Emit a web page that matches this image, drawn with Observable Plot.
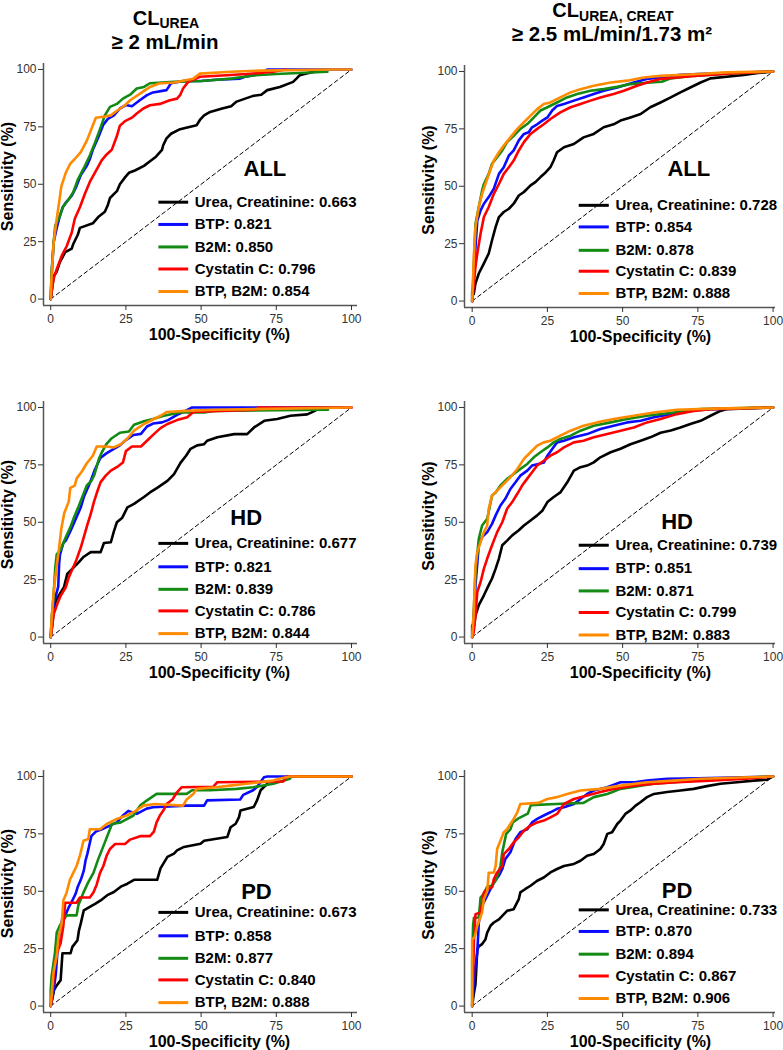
<!DOCTYPE html>
<html><head><meta charset="utf-8">
<script src="https://cdn.jsdelivr.net/npm/d3@7"></script>
<script src="https://cdn.jsdelivr.net/npm/@observablehq/plot@0.6"></script>
<style>
html,body{margin:0;padding:0;background:#fff;overflow:hidden}
#wrap{position:relative;width:783px;height:1050px;font-family:"Liberation Sans",Arial,sans-serif}
#wrap > svg, #wrap > div{position:absolute}
</style></head><body><div id="wrap"></div>
<script>
// ---------- series meta ----------
const seriesNames = ["Urea, Creatinine", "BTP", "B2M", "Cystatin C", "BTP, B2M"];
const seriesColors = ["#000000", "#0a0aff", "#138a13", "#ff0000", "#ff8a00"];
const xTicks = [0, 25, 50, 75, 100];
const yTicks = [0, 25, 50, 75, 100];
const groupLabels = ["ALL", "HD", "PD"];
const xTitle = "100-Specificity (%)";
const yTitle = "Sensitivity (%)";

// ---------- AUC values ----------
const aucLeftAll = [0.663, 0.821, 0.850, 0.796, 0.854];
const aucLeftHd  = [0.677, 0.821, 0.839, 0.786, 0.844];
const aucLeftPd  = [0.673, 0.858, 0.877, 0.840, 0.888];
const aucRightAll = [0.728, 0.854, 0.878, 0.839, 0.888];
const aucRightHd  = [0.739, 0.851, 0.871, 0.799, 0.883];
const aucRightPd  = [0.733, 0.870, 0.894, 0.867, 0.906];

// ---------- ROC curves: [100-specificity, sensitivity] ----------
// Left column: CL_UREA >= 2 mL/min
const L_all_urea = [[0,0],[0.5,5],[1,10],[2,12],[3,16],[4.8,20.4],[7,22],[7.5,24],[9,28],[9.7,31],[14,33],[16,36],[18,38],[19,41],[19.7,44],[22,47],[23,50],[24.7,53],[26,55],[28,56],[31,58],[33,60],[35,62],[37,65],[37.4,67],[38.5,70],[40,72],[43,74],[48.5,75.7],[49.6,78],[51,80],[53,81.5],[57,83],[60,84],[61.8,86],[67.3,88.5],[70,89],[72,91],[76.2,92.4],[80.6,94.6],[81.7,96],[82.8,97.5],[85,98.3],[87.8,99]];
const L_all_btp = [[0,0],[0.5,15],[1,25],[2,31],[3,36],[4,40],[5,42],[7,45],[8.5,49],[10,54],[12,58],[13,61],[14,65],[16,71],[17.5,76],[19,78.5],[21,80],[23,83],[25,84.5],[27,84],[29.5,86.5],[32,88.8],[34,90],[38.5,91],[40,94],[44,95],[50,95],[55,95.5],[63,96],[65,97],[70,98],[72,100],[100,100]];
const L_all_b2m = [[0,0],[0.3,12],[1,25],[1.5,32],[3,36],[4,40],[6,43.5],[7.5,46.5],[9,52],[11,57],[13,62.5],[14.7,68],[16.4,74],[18,80],[19.7,83.7],[22,85],[24,87.3],[26.4,89],[28.6,91.7],[31,92.4],[33,94],[41,94.6],[50,95],[60,96],[68,97.5],[75,98],[92,99]];
const L_all_cys = [[0,0],[0.5,5],[1,9],[2,13],[3.7,19],[5.3,23],[7,29],[8,35],[9.7,40],[11.4,46],[13,51],[15.3,56.5],[17,60.5],[18.6,63],[20.3,65],[22,71],[23,75.5],[24.7,77.5],[27,79],[28.6,80.8],[30.8,83],[33,84.4],[36.3,85],[39.6,86.6],[42,87.3],[43,88.8],[44,91.7],[45.7,94.6],[49.6,96.8],[58.5,97.5],[65,98],[74,99],[78,100]];
const L_all_combo = [[0,0],[0.3,10],[1,25],[2,35],[3,44],[3.5,49],[5,55],[6.5,59],[8,61],[10,64],[12,69],[13.5,74],[15,79],[18,79.5],[20,80],[22,82],[24.7,84.4],[26.4,86.6],[29.7,89.5],[33,92.4],[36,93.9],[41,94.3],[47.4,96],[49.6,98.2],[60,99],[70,99.5],[92.8,100],[100,100]];

const L_hd_urea = [[0,0],[0.5,5],[1,12],[1.7,16],[4.4,21.7],[5.5,27.5],[8.9,32],[11,35],[13.3,37],[16.6,37],[17.7,41],[20,41.3],[21,46],[22,50],[23.8,52],[25.5,56.5],[27.7,58],[31,61],[33,63],[35.4,65],[38.8,68],[41,71],[43.2,76],[45,79],[46.5,82],[48.7,83.5],[51,84],[52,85.5],[55.4,87],[61,88.4],[65.3,88.4],[67.6,91.3],[71,94.2],[75.3,95],[79.7,96.4],[85.3,97],[88,98.6]];
const L_hd_btp = [[0,0],[0.5,10],[1.1,15],[2.5,22],[2.8,32],[3.1,36],[4.2,41],[5,42],[6.5,46],[8.5,52],[10,56.5],[11,61],[13,67],[14.7,73],[16.5,78],[18.5,80],[21,82],[23,83.5],[25.2,86],[27.5,88],[30,88.5],[32,91.7],[34,93],[37,93.5],[39,94.5],[42,96.8],[44,98],[47,100],[100,100]];
const L_hd_b2m = [[0,0],[0.3,8],[0.9,17],[1.5,30],[2,36],[3.3,38],[5,43.5],[6.6,48],[7.7,52],[9.3,57],[10.5,61],[12,66],[13.5,68],[14.5,70.6],[16,77.5],[17,80.5],[18.5,84],[20.3,86.6],[23,89],[26,89.5],[27.7,92.5],[31,94],[34,95],[37.6,96.4],[43,97.8],[51,97.8],[54.3,98.5],[92.2,99]];
const L_hd_cys = [[0,0],[0.5,5],[1,10],[2.2,14.5],[3.3,18],[5,21.7],[6,26],[7,29],[8.5,33.5],[10,39],[11,43.5],[12.2,49],[13.3,53.6],[14.4,59],[15.5,63.5],[16.6,67.5],[18.3,70.3],[20,72.5],[22.5,74.5],[24,76],[25,81],[27,83],[30,83],[32,85.5],[34.3,88.4],[36.5,91],[38.8,92.8],[42,94.5],[45.4,95.7],[47.4,98],[56,98.5],[68.4,99],[69,100],[100,100]];
const L_hd_combo = [[0,0],[0.3,8],[1,20],[1.7,28],[2.8,39],[3.5,47],[4.5,54],[6,59],[6.5,65],[8,66],[8.6,69],[10.3,72],[12,75.7],[14,79],[15.3,83],[18.6,83],[21,82.6],[23.3,84],[25.5,86.5],[27.7,89.9],[31,92.8],[33.2,94.2],[36.5,96.4],[38.5,98],[45,98.5],[55,99],[100,100]];

const L_pd_urea = [[0,0],[0.5,3],[1.1,7],[2,9],[3.3,11.3],[3.9,23],[6.6,23],[7.2,25.8],[8.9,28.7],[9.4,33],[10,36],[11,41.7],[12.7,43],[14.9,44.6],[16.6,46],[18.8,48.3],[21,49.7],[23.3,52],[25.5,53.3],[27.7,55],[35.4,55],[36.5,60],[38.8,65],[41,66.4],[42,67.8],[44.3,69.3],[49.8,70.7],[51,72],[58.7,73.6],[59.8,77.9],[61.5,79.4],[62.6,82.3],[63.1,85.2],[67.5,86.7],[68.6,89.6],[69.8,94],[70.9,95.4],[72,96.8]];
const L_pd_btp = [[0,0],[1,7],[1.7,14],[2.2,23],[2.8,30],[3.3,33],[3.9,38.8],[5,40],[6,43],[7.2,46],[8.3,49],[9,52],[10,55],[11,59],[11.6,63.5],[12.2,66.4],[12.7,69.3],[13.5,74],[15,76],[17,77],[19.7,78.6],[22,80],[24,83],[25.8,85],[28.6,83.7],[31.9,86],[34,86.6],[45,87.3],[51,87.3],[52,89.6],[63,90],[64,92],[67.3,94],[68.6,95.4],[70.9,99.7],[72,100],[100,100]];
const L_pd_b2m = [[0,0],[0,7],[0.3,13],[1.4,23],[2,32],[3,35],[4,37],[5.3,39.5],[8.6,39.5],[9.2,44],[10.9,49.5],[12.5,54],[14.2,58],[15.8,64],[18,71.3],[19.7,77],[20.3,79.3],[23.3,80],[27.5,83],[29.7,87.3],[31.9,89.5],[35.2,92.4],[45.2,92.4],[47,94],[53,94],[61.8,94.6],[67.3,95.3],[74,96.8],[79.5,99],[80,100],[100,100]];
const L_pd_cys = [[0,0],[0.5,5],[0.9,11.6],[1.4,18],[2.2,23.6],[3.3,27.5],[4.2,35],[4.5,40],[4.8,45],[8.6,45],[9.7,47.3],[13,47.3],[14.2,49.5],[15.3,53],[16.4,58],[17.5,61],[18.6,65.5],[19.7,68.4],[21.4,70.6],[24.7,70.6],[26.4,72.5],[29.7,74],[33,74],[34.3,76],[35.2,80],[36.3,83],[37.6,85.5],[38.5,88],[40.5,90],[41.9,93],[43.5,95.3],[54,95.5],[55.4,97.5],[77.3,97.8],[78.5,100],[100,100]];
const L_pd_combo = [[0,0],[0.5,8],[0.9,14.6],[2,22],[2.5,29],[3.7,36.4],[4.2,46],[5.3,49.5],[6.4,55],[7.5,58],[8.6,61],[9.7,65.5],[10.9,72],[12.5,72.8],[13,77],[16.4,77],[18.6,79.3],[22,81.5],[25.2,83],[27.5,84.4],[30.8,87.3],[34.7,88],[44,87.3],[45.2,90],[47.4,92.4],[48.5,94.6],[55,95.3],[59.6,96],[65,96.8],[74,98.2],[76,99],[79.5,100],[100,100]];

// Right column: CL_UREA,CREAT >= 2.5 mL/min/1.73 m2
const R_all_urea = [[0,0],[0,4],[0.5,3],[1.1,7.7],[2.2,12],[3.9,16.4],[5.5,20.7],[6.6,26.5],[7.8,32.3],[8.9,36.6],[10.5,38.8],[12.2,40.2],[13.8,42.4],[15.5,46],[17.2,47.5],[19.4,50.4],[21,51.8],[22.7,54],[24.4,56],[26,58.3],[27,61],[28.2,64.8],[30.5,67],[33.8,68.4],[37,71.3],[40.4,72.8],[43.7,75.7],[47,77],[49.3,78.6],[52.6,80],[56,81.5],[59.2,84.4],[62.6,86.5],[66,88.7],[69.2,90.9],[72.5,93],[75.9,95.2],[79.2,97],[87,98],[90.3,98.5],[95,99.3],[100,100]];
const R_all_btp = [[0,0],[0.5,10],[1.1,23.6],[1.7,35],[2.8,39.5],[3.9,42.4],[5.5,45.3],[7.2,49],[8.9,55.4],[10.5,58.3],[12.2,63.4],[13.8,65.6],[15.5,70],[17.2,72.8],[18.8,73.5],[19.9,75.7],[21.6,77],[23.3,78.6],[25,80],[26.6,83],[28.2,85],[30.5,85.8],[33.8,87.3],[37,88.7],[40.4,90.2],[43.7,91.6],[48.2,93],[53.7,95.2],[58,96.7],[62.6,97.4],[69.2,98.5],[79.2,99.1],[100,100]];
const R_all_b2m = [[0,0],[0.3,8],[0.6,17.8],[1.1,33.7],[2.2,41],[3.3,48.2],[3.9,51],[5.5,55.4],[6.6,59.8],[8.3,62.7],[10,65.6],[11.6,69.2],[13.8,72],[16,75],[18.3,77.1],[20.5,80],[22.7,83],[25,84.4],[28.2,86.5],[31.5,88.7],[34.9,90.2],[39.3,91.6],[43.7,92.3],[48.2,93.3],[52.6,94.5],[59.2,95.2],[63,95.5],[66,97],[73.6,98.1],[84.7,99],[100,100]];
const R_all_cys = [[0,0],[0.5,7],[1.1,15],[1.7,20.7],[2.8,29.4],[3.9,36.6],[5.5,41],[7.2,46.7],[8.9,51],[10.5,55.4],[12.2,58.3],[13.8,61.2],[15.5,65.6],[17.2,69.2],[19.4,72.8],[21.6,75],[23.8,77],[26,79.3],[29.3,82.2],[32.7,84.4],[36,85.8],[39.3,87.3],[42.6,88.7],[47,90.2],[50.4,91.6],[54.8,93.8],[58.1,95.2],[62.6,96.7],[68,97.4],[73.6,98.1],[84.7,99],[100,100]];
const R_all_combo = [[0,0],[0.3,10],[0.6,20.7],[1.1,32.3],[2.2,41],[3.3,46.7],[4.4,51],[6,57],[7.2,61.2],[8.9,64.8],[10.5,67.7],[12.7,71.3],[15,75],[17.2,77.9],[19.4,80.8],[21.6,83.6],[23.8,85.8],[26,86.5],[29.3,88.7],[32.7,90.9],[36,92.3],[40.4,93.8],[46,95.2],[51.5,96],[57,97.4],[62.6,98.1],[73.6,98.8],[84.7,99.6],[100,100]];

const R_hd_urea = [[0,0],[0,5],[0.5,4],[1.1,9.5],[2.2,13.9],[3.9,18.2],[5.5,22.6],[6.6,25.5],[7.8,29.8],[8.9,34.2],[10,40],[11.6,42],[13.3,44.3],[15.5,46.5],[17.2,48.6],[19.4,50.8],[21.6,53],[23.3,55],[25,58.8],[27.1,61],[29.3,63],[31.6,67.4],[33.8,72.5],[36,74],[38.2,74.7],[40.4,76.1],[42.6,78.3],[46,80.5],[49.3,82],[52.6,84],[56,85.5],[59.2,87],[62.6,89],[66,90],[69.2,91.3],[72.5,92.8],[75.9,94.2],[79.2,96.4],[82.5,98.5],[84.7,99.3],[100,100]];
const R_hd_btp = [[0,0],[0.5,8],[1.1,22.6],[2.2,40],[3.3,43.6],[5,45.7],[6.6,49.3],[7.8,53],[9.4,57.3],[11,60.2],[12.7,64.5],[14.4,67.4],[16,70.3],[18.3,72.5],[19.9,74.7],[22,75.4],[23.8,76],[25,79],[26.6,81.9],[28.2,84.8],[30.5,85.5],[33.8,87],[38.2,88.4],[42.6,90.6],[47,92],[51.5,93.5],[56,94.2],[60.4,95.7],[65,96.8],[71.4,98.5],[80.3,99.3],[100,100]];
const R_hd_b2m = [[0,0],[0.5,10],[1.1,28.4],[2.2,42.8],[3.3,48.6],[5,51.5],[6.6,61.6],[7.8,63],[9.4,66],[11.6,68.9],[13.8,71],[16,73.2],[18.3,75.4],[20.5,78.3],[22.7,80.5],[25,82.6],[27.1,84.8],[29.3,86.3],[32.7,87.7],[36,89.9],[40.4,92],[46,93.5],[51.5,95],[58.1,96.4],[67,97.8],[75.9,99.3],[100,100]];
const R_hd_cys = [[0,0],[0.5,2],[1.1,9.5],[1.7,19.7],[2.8,24],[3.9,29.8],[5,34.2],[6.6,40],[8.3,45.7],[10,50],[11.6,55.9],[13.3,58.8],[15,62.4],[16.6,66],[18.3,69],[19.9,71.8],[21.6,74.7],[23.8,76.8],[26,79],[28.2,80.5],[30.5,82.6],[33.8,84.8],[37,85.5],[40.4,87],[44.9,88.4],[49.3,89.9],[53.7,91.3],[58.1,93.5],[62.6,95],[68,97.1],[73.6,98.5],[80,99.3],[100,100]];
const R_hd_combo = [[0,0],[0.5,10],[1.1,31.3],[1.7,37],[2.8,41.4],[3.9,45.7],[5,48.6],[5.5,55.9],[6.6,61.6],[8.3,63.8],[10.5,66.7],[12.7,69.6],[15,73.2],[17.2,77.6],[19.4,80.5],[21.6,83.4],[23.8,84.8],[26,85.5],[29.3,87.7],[32.7,89.9],[37,92],[41.5,93.5],[47,95],[53.7,96.4],[60.4,97.8],[68,99],[80,99.5],[100,100]];

const R_pd_urea = [[0,0],[0.5,5],[1.1,9.5],[1.7,24.7],[2.2,26],[3.3,27],[4.4,29],[5,32],[6.1,35],[7.2,36.4],[8.9,37.8],[10,39.3],[11.6,41.5],[13.8,42.2],[15.5,46.6],[16,49.5],[17.7,51],[19.4,52.4],[21.6,54.6],[23.8,56],[26,58.2],[28.2,59.7],[30.5,61],[33.8,61.9],[36,63.3],[38.2,65.5],[40.4,66.2],[42.6,68.4],[43.7,70.6],[44.9,75],[46.5,75.7],[48.2,79.3],[49.3,80.8],[50.9,83.7],[52.6,85.2],[54.3,87.3],[55.9,88.8],[58.1,91],[60.4,92.4],[64.8,93.2],[69.2,93.9],[73.6,94.6],[78,95.8],[82.5,96.8],[88,97.5],[93.6,98.2],[98,98.6],[100,100]];
const R_pd_btp = [[0,0],[0.5,10],[1.1,17.5],[1.7,23.3],[2.2,36.4],[3.3,43.7],[4.4,46.6],[6.1,51],[7.2,53.9],[8.9,56.8],[10,59.7],[11,64],[12.7,67],[14.4,72.8],[16,75.7],[18.3,77],[19.9,80],[21.6,81.5],[23.8,83],[26,84.4],[28.2,85.9],[30.5,86.6],[33.8,88],[36,90.2],[38.2,92.4],[40.4,93.9],[44.9,95.3],[49.3,97.5],[54,97.5],[58,98.2],[64.8,99],[75,99.2],[100,100]];
const R_pd_b2m = [[0,0],[0,20],[0.3,35],[0.6,38.5],[2.2,38.6],[2.8,47.3],[3.9,49],[5,52],[6.6,52.4],[8,55],[9.4,61],[10,67],[11.3,75],[12.7,77],[13.5,80],[15.2,81.6],[18.5,83.8],[19.5,87.5],[28,88],[37,88.5],[40.4,91],[44.9,92.4],[49.3,94.6],[56,96],[60.4,96.8],[73.6,98.2],[84.7,99],[100,100]];
const R_pd_cys = [[0,0],[0.6,29],[1.1,40],[2.8,40.8],[3.9,49.5],[5,51],[6.6,51.7],[7.2,55.3],[8.3,58.2],[10,61],[10.5,66.2],[12.2,68.4],[13.8,71.3],[15.5,73.5],[17.2,76.4],[19.4,78.6],[21.6,80],[23.8,80.8],[26,82.2],[28.2,83.7],[30.5,88],[33.8,90.2],[38.2,91.7],[42.6,93.2],[47,94.6],[53.7,96],[60.4,96.8],[68,97.5],[79,98.2],[91,99],[100,100]];
const R_pd_combo = [[0,0],[0,29],[0.8,30],[1.7,35],[3.3,40.8],[3.9,46.6],[5,50],[5.5,58],[7.2,58.2],[7.8,61],[8.3,68.4],[9.4,72],[10.5,75.7],[11.6,77],[12.7,79.3],[13.8,81.5],[15,84.4],[16,88],[22,88.5],[25,90.2],[28.2,91],[31.6,92.4],[36,93.9],[42.6,94.6],[49.3,96],[58,97.5],[67,98.2],[75.9,99],[100,100]];

// ---------- build ----------
const wrap = document.getElementById("wrap");
const FONT = "'Liberation Sans', Arial, Helvetica, sans-serif";
const fmt = d3.format(".3f");
const yDomain = [-2.8, 102.6];

// Column titles
const titleSvg = d3.create("svg").attr("width", 783).attr("height", 56)
  .style("left", "0px").style("top", "0px")
  .attr("font-family", FONT).attr("font-weight", "bold").attr("fill", "#000");
{
  const t1 = titleSvg.append("text").attr("x", 166).attr("y", 25).attr("text-anchor", "middle").attr("font-size", 20);
  t1.append("tspan").text("CL");
  t1.append("tspan").attr("font-size", 14).attr("dy", 3.3).text("UREA");
  titleSvg.append("text").attr("x", 165).attr("y", 49).attr("text-anchor", "middle").attr("font-size", 20.5).text("≥ 2 mL/min");
  const t2 = titleSvg.append("text").attr("x", 613).attr("y", 16.5).attr("text-anchor", "middle").attr("font-size", 20);
  t2.append("tspan").text("CL");
  t2.append("tspan").attr("font-size", 14).attr("dy", 4.5).text("UREA, CREAT");
  titleSvg.append("text").attr("x", 612).attr("y", 41).attr("text-anchor", "middle").attr("font-size", 20.5).text("≥ 2.5 mL/min/1.73 m²");
}
wrap.appendChild(titleSvg.node());

function panel(cfg) {
  const {curves, aucs, label, labelX, labelY, legendY, side, top} = cfg;
  const isLeft = side === "left";
  const xDomain = isLeft ? [-2.4, 102] : [-2.55, 100.8];
  const width = isLeft ? 390 : 393;
  const marginLeft = isLeft ? 43 : 74;
  const marginRight = isLeft ? 33 : 8;
  const lx1 = isLeft ? 35.8 : 35.4, lx2 = isLeft ? 45.7 : 45.4, tx = isLeft ? 47.9 : 47.6;
  const legendRows = seriesNames.map((n, i) => ({name: n, auc: aucs[i], y: legendY[i], color: seriesColors[i]}));
  const svg = Plot.plot({
    width, height: 286, marginLeft, marginRight, marginTop: 6, marginBottom: 38,
    x: {domain: xDomain, axis: null},
    y: {domain: yDomain, axis: null},
    color: {type: "identity"},
    style: {fontFamily: FONT, background: "transparent", overflow: "visible"},
    marks: [
      Plot.line([[0, 0], [100, 100]], {x: d => d[0], y: d => d[1], stroke: "#000", strokeWidth: 1, strokeDasharray: "4,3"}),
      ...curves.map((c, i) => Plot.line(c, {x: d => d[0], y: d => d[1], stroke: seriesColors[i], strokeWidth: 2.6})),
      Plot.link(legendRows, {x1: () => lx1, x2: () => lx2, y1: "y", y2: "y", stroke: "color", strokeWidth: 3, strokeLinecap: "butt"}),
      Plot.text(legendRows, {x: () => tx, y: "y", text: d => `${d.name}: ${fmt(d.auc)}`, textAnchor: "start", lineAnchor: "middle", fontSize: 15, fontWeight: "bold", fill: "#000"}),
      Plot.text([label], {x: () => labelX, y: () => labelY, text: d => d, textAnchor: "middle", lineAnchor: "middle", fontSize: 22, fontWeight: "bold", fill: "#000"}),
      Plot.ruleX([xDomain[0]], {stroke: "#555", strokeWidth: 1.5}),
      Plot.ruleY([yDomain[0]], {stroke: "#555", strokeWidth: 1.5}),
      Plot.axisX({ticks: xTicks, tickSize: 5, tickPadding: 4, fontSize: 12, label: null, color: "#333"}),
      Plot.axisY({ticks: yTicks, tickSize: 5, tickPadding: 2, fontSize: 12, label: null, color: "#333"}),
      Plot.text([xTitle], {frameAnchor: "bottom", dy: 29, dx: isLeft ? 19 : 20.5, text: d => d, textAnchor: "middle", lineAnchor: "middle", fontSize: 16, fontWeight: "bold", fill: "#000"}),
      Plot.text([yTitle], {frameAnchor: "left", dx: isLeft ? -35.5 : -36, dy: isLeft ? -8 : -6.5, rotate: -90, text: d => d, textAnchor: "middle", lineAnchor: "middle", fontSize: 16, fontWeight: "bold", fill: "#000"})
    ]
  });
  svg.style.left = (isLeft ? 0 : 390) + "px";
  svg.style.top = top + "px";
  wrap.appendChild(svg);
}

panel({side: "left", top: 57, curves: [L_all_urea, L_all_btp, L_all_b2m, L_all_cys, L_all_combo], aucs: aucLeftAll, label: groupLabels[0], labelX: 71.2, labelY: 56.8, legendY: [42.2, 32.5, 22.7, 13.1, 3.3]});
panel({side: "left", top: 395, curves: [L_hd_urea, L_hd_btp, L_hd_b2m, L_hd_cys, L_hd_combo], aucs: aucLeftHd, label: groupLabels[1], labelX: 65, labelY: 51.7, legendY: [40.8, 30.6, 20.8, 11.4, 1.5]});
panel({side: "left", top: 764, curves: [L_pd_urea, L_pd_btp, L_pd_b2m, L_pd_cys, L_pd_combo], aucs: aucLeftPd, label: groupLabels[2], labelX: 68.4, labelY: 49.5, legendY: [40.8, 30.6, 20.8, 11.4, 1.5]});
panel({side: "right", top: 58.7, curves: [R_all_urea, R_all_btp, R_all_b2m, R_all_cys, R_all_combo], aucs: aucRightAll, label: groupLabels[0], labelX: 72, labelY: 57.6, legendY: [41.7, 32.3, 22.1, 13, 3.3]});
panel({side: "right", top: 394.5, curves: [R_hd_urea, R_hd_btp, R_hd_b2m, R_hd_cys, R_hd_combo], aucs: aucRightHd, label: groupLabels[1], labelX: 68.1, labelY: 50, legendY: [40, 29.8, 20.1, 10.7, 0.9]});
panel({side: "right", top: 764, curves: [R_pd_urea, R_pd_btp, R_pd_b2m, R_pd_cys, R_pd_combo], aucs: aucRightPd, label: groupLabels[2], labelX: 68.1, labelY: 50.2, legendY: [41.9, 32.5, 22.6, 13.1, 3.3]});
</script>
</body></html>
